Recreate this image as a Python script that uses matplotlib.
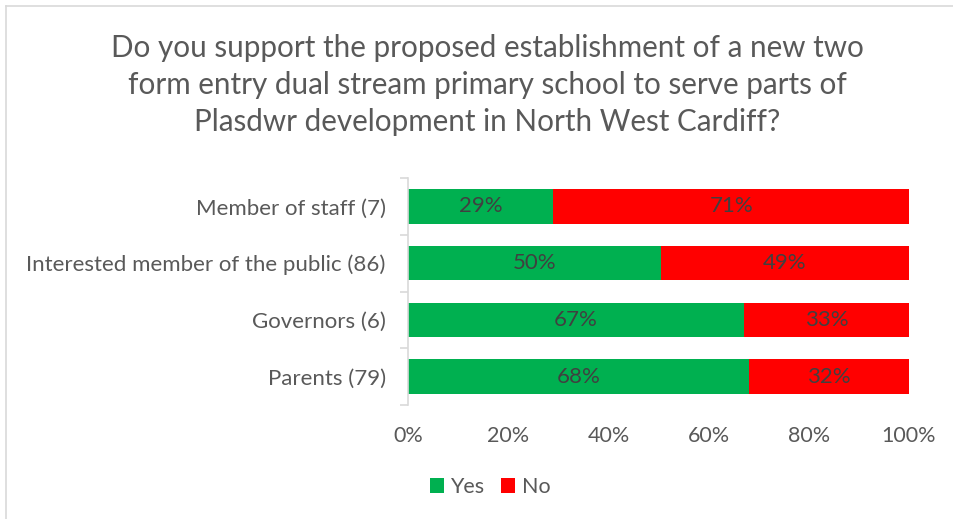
import numpy as np
import matplotlib.pyplot as plt

categories = ["Member of staff (7)", "Interested member of the public (86)",
              "Governors (6)", "Parents (79)"]
yes = np.array([29, 50, 67, 68])
no = np.array([71, 49, 33, 32])
xticks = [0, 20, 40, 60, 80, 100]

plt.rcParams['font.family'] = ['Lato', 'DejaVu Sans']

fig = plt.figure(figsize=(9.54, 5.19), dpi=100)
ax = fig.add_axes([408 / 954, 1 - 405 / 519, 501 / 954, 227 / 519])

# 100% stacked, like the spreadsheet does
total = yes + no
yes_share = yes / total * 100
no_share = no / total * 100

pos = np.arange(len(categories))[::-1]
green = "#00B050"
red = "#FF0000"
bh = 0.61
ax.barh(pos, yes_share, height=bh, color=green, label="Yes")
ax.barh(pos, no_share, left=yes_share, height=bh, color=red, label="No")

for p, ys, ns, yv, nv in zip(pos, yes_share, no_share, yes, no):
    ax.text(ys / 2, p, f"{yv}%", ha='center', va='center', fontsize=16, color="#404040")
    ax.text(ys + ns / 2, p, f"{nv}%", ha='center', va='center', fontsize=16, color="#404040")

ax.set_xlim(0, 100)
ax.set_ylim(-0.5, len(categories) - 0.5)
ax.set_xticks(xticks)
ax.set_xticklabels([f"{t}%" for t in xticks], fontsize=15.5, color="#595959")
ax.set_yticks(pos)
ax.set_yticklabels(categories, fontsize=16, color="#595959")
ax.set_yticks(np.arange(-0.5, len(categories), 1), minor=True)
ax.tick_params(axis='y', which='major', length=0, pad=16)
ax.tick_params(axis='y', which='minor', length=6, color="#D9D9D9", width=1.2)
ax.tick_params(axis='x', length=0, pad=15)
for s in ['top', 'right', 'bottom']:
    ax.spines[s].set_visible(False)
ax.spines['left'].set_color("#D9D9D9")
ax.spines['left'].set_linewidth(1.2)

fig.text(487 / 954, 1 - 85 / 519,
         "Do you support the proposed establishment of a new two\n"
         "form entry dual stream primary school to serve parts of\n"
         "Plasdwr development in North West Cardiff?",
         ha='center', va='center', fontsize=21.3, color="#595959", linespacing=1.37)

fig.legend(loc='center', bbox_to_anchor=(490 / 954, 1 - 487 / 519), ncol=2,
           frameon=False, fontsize=15.5, labelcolor="#595959",
           handlelength=0.65, handleheight=0.65, handletextpad=0.3, columnspacing=0.8)

# chart border (only top and left visible in the crop)
fig.add_artist(plt.Line2D([6.5 / 954, 6.5 / 954], [0, 1 - 5.5 / 519],
                          transform=fig.transFigure, color="#D9D9D9", lw=1.2))
fig.add_artist(plt.Line2D([6.5 / 954, 953 / 954], [1 - 5.5 / 519, 1 - 5.5 / 519],
                          transform=fig.transFigure, color="#D9D9D9", lw=1.2))

fig.savefig("out.png", dpi=100)
